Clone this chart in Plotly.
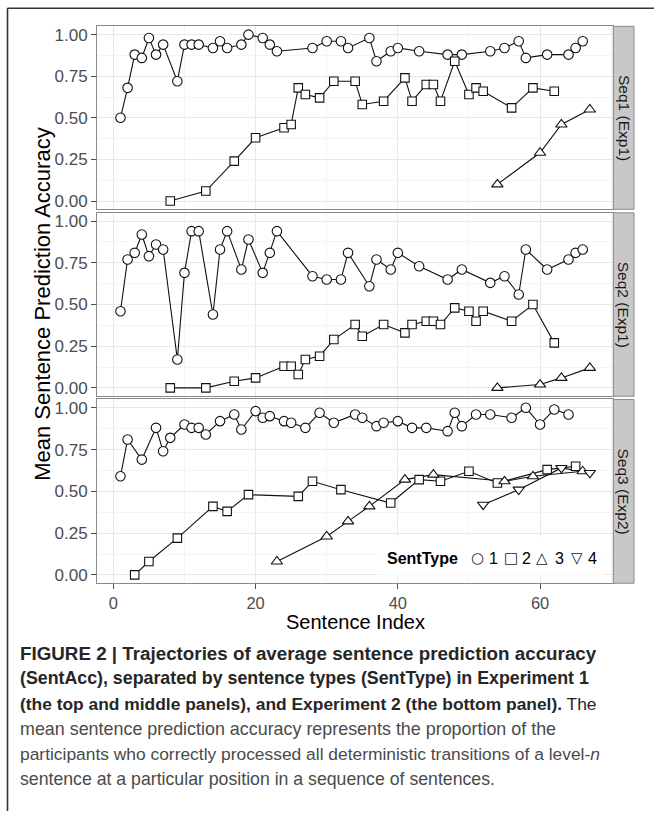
import plotly.graph_objects as go

W, H = 654, 813

# ---------------- data ----------------
seq_labels = ["Seq1 (Exp1)", "Seq2 (Exp1)", "Seq3 (Exp2)"]
sent_types = ["1", "2", "3", "4"]
x_ticks = [0, 20, 40, 60]
y_ticks = [0.0, 0.25, 0.5, 0.75, 1.0]

# Seq1 (Exp1)
s1_t1_x = [1, 2, 3, 4, 5, 6, 7, 9, 10, 11, 12, 14, 15, 16, 18, 19, 21, 22, 23, 28, 30, 32, 33, 36, 37,
           39, 40, 43, 47, 49, 53, 55, 57, 58, 61, 64, 65, 66]
s1_t1_y = [0.50, 0.68, 0.88, 0.86, 0.98, 0.88, 0.94, 0.72, 0.94, 0.94, 0.94, 0.92, 0.96, 0.92, 0.94, 1.00,
           0.98, 0.94, 0.90, 0.92, 0.96, 0.96, 0.92, 0.98, 0.84, 0.90, 0.92, 0.90, 0.88, 0.88, 0.90, 0.92,
           0.96, 0.86, 0.88, 0.88, 0.92, 0.96]
s1_t2_x = [8, 13, 17, 20, 24, 25, 26, 27, 29, 31, 34, 35, 38, 41, 42, 44, 45, 46, 48, 50, 51, 52, 56, 59, 62]
s1_t2_y = [0.00, 0.06, 0.24, 0.38, 0.44, 0.46, 0.68, 0.64, 0.62, 0.72, 0.72, 0.58, 0.60, 0.74, 0.60, 0.70,
           0.70, 0.60, 0.84, 0.64, 0.68, 0.66, 0.56, 0.68, 0.66]
s1_t3_x = [54, 60, 63, 67]
s1_t3_y = [0.10, 0.29, 0.46, 0.55]

# Seq2 (Exp1)
s2_t1_x = [1, 2, 3, 4, 5, 6, 7, 9, 10, 11, 12, 14, 15, 16, 18, 19, 21, 22, 23, 28, 30, 32, 33, 36, 37,
           39, 40, 43, 47, 49, 53, 55, 57, 58, 61, 64, 65, 66]
s2_t1_y = [0.46, 0.77, 0.81, 0.92, 0.79, 0.86, 0.83, 0.17, 0.69, 0.94, 0.94, 0.44, 0.83, 0.94, 0.71, 0.89,
           0.69, 0.81, 0.94, 0.67, 0.65, 0.65, 0.81, 0.61, 0.77, 0.71, 0.81, 0.73, 0.65, 0.71, 0.63, 0.67,
           0.56, 0.83, 0.71, 0.77, 0.81, 0.83]
s2_t2_x = [8, 13, 17, 20, 24, 25, 26, 27, 29, 31, 34, 35, 38, 41, 42, 44, 45, 46, 48, 50, 51, 52, 56, 59, 62]
s2_t2_y = [0.00, 0.00, 0.04, 0.06, 0.13, 0.13, 0.08, 0.17, 0.19, 0.29, 0.38, 0.31, 0.38, 0.33, 0.38, 0.40,
           0.40, 0.38, 0.48, 0.46, 0.40, 0.46, 0.40, 0.50, 0.27]
s2_t3_x = [54, 60, 63, 67]
s2_t3_y = [0.00, 0.02, 0.06, 0.12]

# Seq3 (Exp2)
s3_t1_x = [1, 2, 4, 6, 7, 8, 10, 11, 12, 13, 15, 17, 18, 20, 21, 22, 24, 25, 27, 29, 31, 34, 35, 37,
           38, 40, 42, 44, 47, 48, 49, 51, 53, 56, 58, 60, 62, 64]
s3_t1_y = [0.59, 0.81, 0.69, 0.88, 0.74, 0.82, 0.90, 0.88, 0.88, 0.84, 0.92, 0.96, 0.87, 0.98, 0.94, 0.95,
           0.92, 0.91, 0.88, 0.97, 0.91, 0.96, 0.94, 0.89, 0.91, 0.92, 0.88, 0.88, 0.86, 0.97, 0.89, 0.96,
           0.96, 0.94, 1.00, 0.90, 0.99, 0.96]
s3_t2_x = [3, 5, 9, 14, 16, 19, 26, 28, 32, 39, 43, 46, 50, 54, 61, 65]
s3_t2_y = [0.00, 0.08, 0.22, 0.41, 0.38, 0.48, 0.47, 0.56, 0.51, 0.43, 0.57, 0.56, 0.62, 0.55, 0.63, 0.65]
s3_t3_x = [23, 30, 33, 36, 41, 45, 55, 59, 66]
s3_t3_y = [0.08, 0.23, 0.32, 0.41, 0.57, 0.60, 0.56, 0.59, 0.62]
s3_t4_x = [52, 57, 63, 67]
s3_t4_y = [0.42, 0.51, 0.64, 0.61]

panels = [
    [(s1_t1_x, s1_t1_y, "1"), (s1_t2_x, s1_t2_y, "2"), (s1_t3_x, s1_t3_y, "3")],
    [(s2_t1_x, s2_t1_y, "1"), (s2_t2_x, s2_t2_y, "2"), (s2_t3_x, s2_t3_y, "3")],
    [(s3_t1_x, s3_t1_y, "1"), (s3_t2_x, s3_t2_y, "2"), (s3_t3_x, s3_t3_y, "3"), (s3_t4_x, s3_t4_y, "4")],
]

caption_lines = [
    "<b>FIGURE 2 | Trajectories of average sentence prediction accuracy</b>",
    "<b>(SentAcc), separated by sentence types (SentType) in Experiment 1</b>",
    "<b>(the top and middle panels), and Experiment 2 (the bottom panel).</b> The",
    "mean sentence prediction accuracy represents the proportion of the",
    "participants who correctly processed all deterministic transitions of a level-<i>n</i>",
    "sentence at a particular position in a sequence of sentences.",
]

# ---------------- styling ----------------
FONT = "Liberation Sans, Arial, Helvetica, sans-serif"
symbols = {"1": "circle", "2": "square", "3": "triangle-up", "4": "triangle-down"}
sizes = {"1": 9.5, "2": 8.5, "3": 10, "4": 10}
legend_glyph = {"1": "○", "2": "□", "3": "△", "4": "▽"}


def px(x):
    return x / W


def py(y):
    return 1 - y / H


X_LEFT, X_RIGHT = 97.0, 613.3
panel_px = [(25.4, 209.1), (212.6, 396.7), (399.9, 584.4)]
XRANGE = [-2.3, 70.3]
YRANGE = [-0.05, 1.05]

fig = go.Figure()

# lines first (all), then points, as in geom_line + geom_point
for pi, series in enumerate(panels):
    ax = "" if pi == 0 else str(pi + 1)
    for xs, ys, st in series:
        fig.add_trace(go.Scatter(x=xs, y=ys, mode="lines", xaxis="x" + ax, yaxis="y" + ax,
                                 line=dict(color="#111111", width=1.1), showlegend=False,
                                 hoverinfo="skip"))
for pi, series in enumerate(panels):
    ax = "" if pi == 0 else str(pi + 1)
    for xs, ys, st in series:
        fig.add_trace(go.Scatter(x=xs, y=ys, mode="markers", xaxis="x" + ax, yaxis="y" + ax,
                                 name=st, showlegend=False,
                                 marker=dict(symbol=symbols[st], size=sizes[st], color="white",
                                             line=dict(color="#111111", width=1.1))))

layout = dict(
    width=W, height=H,
    margin=dict(l=0, r=0, t=0, b=0),
    paper_bgcolor="white", plot_bgcolor="white",
    font=dict(family=FONT, color="#000000"),
    showlegend=False,
)

for pi in range(3):
    ax = "" if pi == 0 else str(pi + 1)
    top, bot = panel_px[pi]
    bottom_panel = pi == 2
    layout["xaxis" + ax] = dict(
        domain=[px(X_LEFT), px(X_RIGHT)], anchor="y" + ax, range=XRANGE,
        tickvals=x_ticks, ticktext=[str(v) for v in x_ticks],
        showticklabels=bottom_panel, ticks="outside" if bottom_panel else "",
        ticklen=5, tickwidth=1, tickcolor="#4d4d4d",
        tickfont=dict(size=16.5, color="#4d4d4d", family=FONT),
        showgrid=True, gridcolor="#e8e8e8", gridwidth=0.8,
        minor=dict(dtick=10, tick0=0, showgrid=True, gridcolor="#f4f4f4", gridwidth=1),
        zeroline=False, showline=True, mirror=True, linecolor="#8a8a8a", linewidth=1,
    )
    layout["yaxis" + ax] = dict(
        domain=[py(bot), py(top)], anchor="x" + ax, range=YRANGE,
        tickvals=y_ticks, ticktext=["%.2f" % v for v in y_ticks],
        ticks="outside", ticklen=5, tickwidth=1, tickcolor="#4d4d4d",
        tickfont=dict(size=17, color="#4d4d4d", family=FONT),
        showgrid=True, gridcolor="#e8e8e8", gridwidth=0.8,
        minor=dict(dtick=0.125, tick0=0, showgrid=True, gridcolor="#f4f4f4", gridwidth=1),
        zeroline=False, showline=True, mirror=True, linecolor="#8a8a8a", linewidth=1,
    )

shapes = []
annotations = []

# facet strips
for pi, lab in enumerate(seq_labels):
    top, bot = panel_px[pi]
    shapes.append(dict(type="rect", xref="paper", yref="paper",
                       x0=px(X_RIGHT), x1=px(634.0), y0=py(bot), y1=py(top),
                       fillcolor="#c8c8c8", line=dict(color="#8a8a8a", width=1), layer="above"))
    annotations.append(dict(text=lab, xref="paper", yref="paper", x=px(623.8), y=py((top + bot) / 2),
                            showarrow=False, textangle=90, xanchor="center", yanchor="middle",
                            font=dict(size=15.5, color="#1a1a1a", family=FONT)))

# legend box inside bottom panel
shapes.append(dict(type="rect", xref="paper", yref="paper",
                   x0=px(378), x1=px(605), y0=py(576), y1=py(538),
                   fillcolor="white", line=dict(width=0), layer="above"))
LEG_Y = 559.5
annotations.append(dict(text="<b>SentType</b>", xref="paper", yref="paper", x=px(422), y=py(LEG_Y),
                        showarrow=False, xanchor="center", yanchor="middle",
                        font=dict(size=16, color="#000000", family=FONT)))
glyph_x = {"1": 477, "2": 511, "3": 542, "4": 577}
num_x = {"1": 493, "2": 526, "3": 559, "4": 592.5}
for st in sent_types:
    annotations.append(dict(text=legend_glyph[st], xref="paper", yref="paper", x=px(glyph_x[st]),
                            y=py(LEG_Y), showarrow=False, xanchor="center", yanchor="middle",
                            font=dict(size=15, color="#222222", family="DejaVu Sans")))
    annotations.append(dict(text=st, xref="paper", yref="paper", x=px(num_x[st]), y=py(LEG_Y),
                            showarrow=False, xanchor="center", yanchor="middle",
                            font=dict(size=16, color="#000000", family=FONT)))

# axis titles
annotations.append(dict(text="Mean Sentence Prediction Accuracy", xref="paper", yref="paper",
                        x=px(43), y=py((panel_px[0][0] + panel_px[2][1]) / 2), textangle=-90,
                        showarrow=False, xanchor="center", yanchor="middle",
                        font=dict(size=22, color="#000000", family=FONT)))
annotations.append(dict(text="Sentence Index", xref="paper", yref="paper",
                        x=px((X_LEFT + X_RIGHT) / 2), y=py(623), showarrow=False,
                        xanchor="center", yanchor="middle",
                        font=dict(size=20, color="#000000", family=FONT)))

# caption
cap_y = [655, 680, 705.5, 731, 756, 781]
cap_size = [18.8, 17.8, 17.4, 17.9, 17.4, 17.7]
for i, line in enumerate(caption_lines):
    col = "#262626" if i < 3 else "#4a4a4a"
    annotations.append(dict(text=line, xref="paper", yref="paper", x=px(18), y=py(cap_y[i]),
                            showarrow=False, xanchor="left", yanchor="middle", align="left",
                            font=dict(size=cap_size[i], color=col, family=FONT)))

# frame of the figure box
shapes.append(dict(type="line", xref="paper", yref="paper", x0=px(7.5), x1=1.0, y0=py(7.3), y1=py(7.3),
                   line=dict(color="#333333", width=1.6)))
shapes.append(dict(type="line", xref="paper", yref="paper", x0=px(7.5), x1=px(7.5), y0=py(7.3), y1=0.0,
                   line=dict(color="#333333", width=1.6)))

layout["shapes"] = shapes
layout["annotations"] = annotations
fig.update_layout(**layout)

fig.write_html("out.html", config={"displayModeBar": False},
               post_script="document.body.style.margin='0';document.body.style.padding='0';")
